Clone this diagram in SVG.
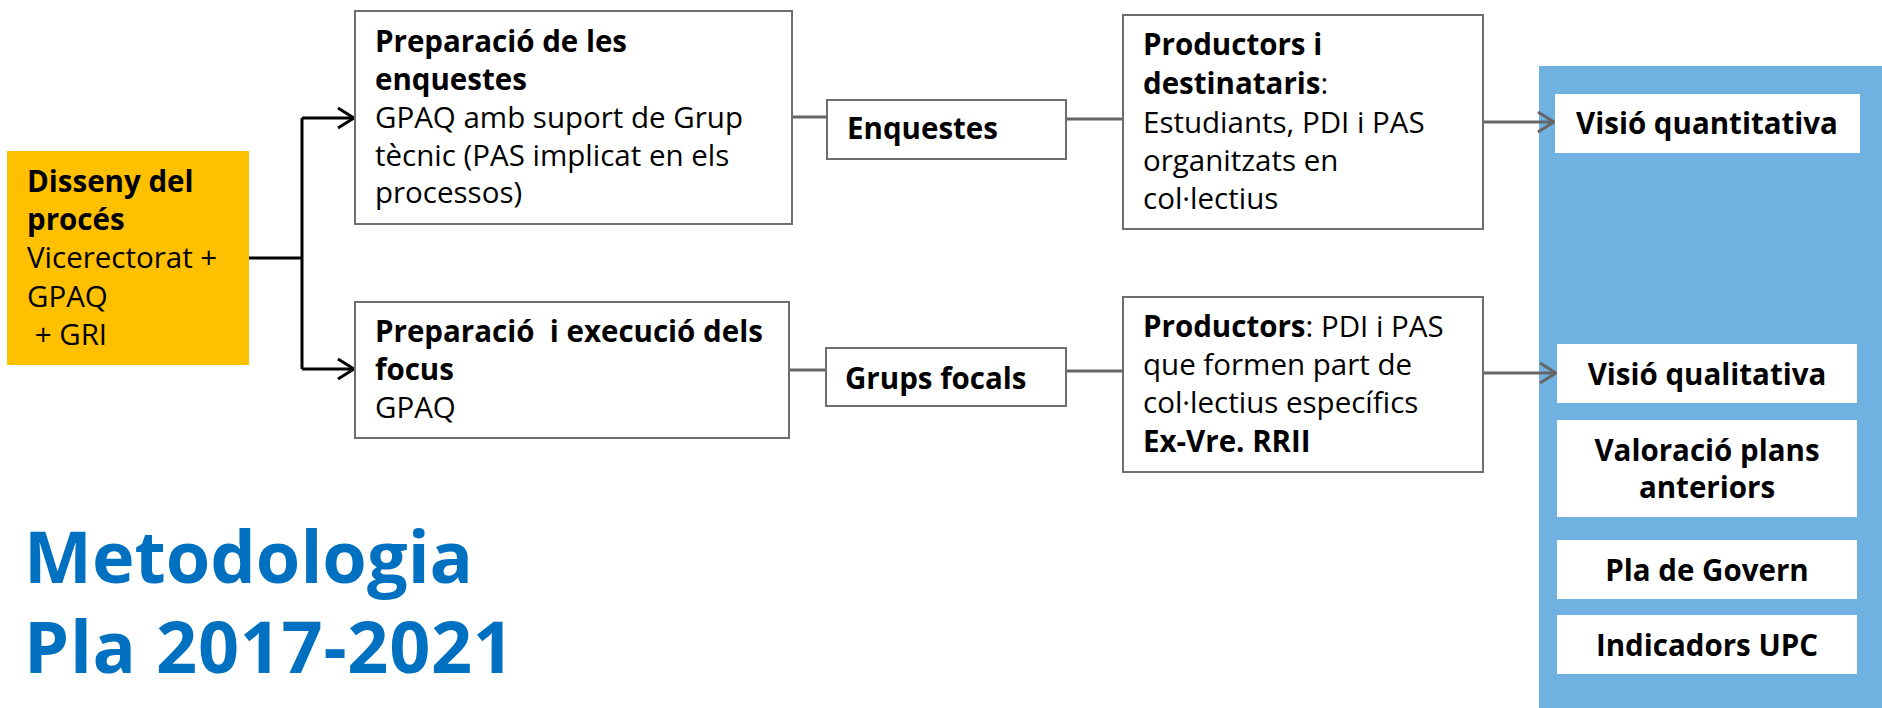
<svg xmlns="http://www.w3.org/2000/svg" width="1882" height="708" viewBox="0 0 1882 708">
<defs>
<style>
.t{font-family:"Open Sans","Noto Sans","DejaVu Sans",sans-serif;font-size:29.5px;fill:#000}
.b{font-weight:bold}
.box{fill:#fff;stroke:#6e6e6e;stroke-width:2}
.wb{fill:#fff}
.c{fill:none;stroke:#000;stroke-width:3}
.g{fill:none;stroke:#666;stroke-width:3}
.title{font-family:"Open Sans","Noto Sans",sans-serif;font-weight:bold;font-size:72px;fill:#0070C0}
.ctr{text-anchor:middle}
</style>
<marker id="ab" markerWidth="20" markerHeight="24" refX="18" refY="12" orient="auto" markerUnits="userSpaceOnUse">
<path d="M2,2 L18,12 L2,22" fill="none" stroke="#000" stroke-width="3"/>
</marker>
<marker id="ag" markerWidth="20" markerHeight="24" refX="18" refY="12" orient="auto" markerUnits="userSpaceOnUse">
<path d="M2,2 L18,12 L2,22" fill="none" stroke="#666" stroke-width="3"/>
</marker>
</defs>
<rect x="0" y="0" width="1882" height="708" fill="#fff"/>
<rect id="panel" x="1539" y="66" width="343" height="642" fill="#6FB1E0"/>

<g id="connectors">
<path class="c" d="M249,258 H302"/>
<path class="c" d="M302,118 V369"/>
<path class="c" d="M302,118 H354" marker-end="url(#ab)"/>
<path class="c" d="M302,369 H354" marker-end="url(#ab)"/>
<path class="g" d="M792,117 H827"/>
<path class="g" d="M1066,119 H1123"/>
<path class="g" d="M1483,122 H1554" marker-end="url(#ag)"/>
<path class="g" d="M789,370 H826"/>
<path class="g" d="M1066,371 H1123"/>
<path class="g" d="M1483,373 H1556" marker-end="url(#ag)"/>
</g>

<g id="disseny">
<rect x="7" y="151" width="242" height="214" fill="#FFC000"/>
<text class="t b" x="27" y="192">Disseny del</text>
<text class="t b" x="27" y="230">procés</text>
<text class="t" x="27" y="268" xml:space="preserve">Vicerectorat +</text>
<text class="t" x="27" y="307">GPAQ</text>
<text class="t" x="27" y="345" xml:space="preserve"> + GRI</text>
</g>

<g id="prep-enquestes">
<rect class="box" x="355" y="11" width="437" height="213"/>
<text class="t b" x="375" y="52">Preparació de les</text>
<text class="t b" x="375" y="90">enquestes</text>
<text class="t" x="375" y="128">GPAQ amb suport de Grup</text>
<text class="t" x="375" y="166">tècnic (PAS implicat en els</text>
<text class="t" x="375" y="203">processos)</text>
</g>

<g id="enquestes">
<rect class="box" x="827" y="100" width="239" height="59"/>
<text class="t b" x="847" y="139">Enquestes</text>
</g>

<g id="productors-destinataris">
<rect class="box" x="1123" y="15" width="360" height="214"/>
<text class="t b" x="1143" y="55">Productors i</text>
<text class="t" x="1143" y="94"><tspan class="b">destinataris</tspan>:</text>
<text class="t" x="1143" y="133">Estudiants, PDI i PAS</text>
<text class="t" x="1143" y="171">organitzats en</text>
<text class="t" x="1143" y="209">col·lectius</text>
</g>

<g id="prep-focus">
<rect class="box" x="355" y="302" width="434" height="136"/>
<text class="t b" x="375" y="342" xml:space="preserve">Preparació  i execució dels</text>
<text class="t b" x="375" y="380">focus</text>
<text class="t" x="375" y="418">GPAQ</text>
</g>

<g id="grups-focals">
<rect class="box" x="826" y="348" width="240" height="58"/>
<text class="t b" x="845" y="389">Grups focals</text>
</g>

<g id="productors">
<rect class="box" x="1123" y="297" width="360" height="175"/>
<text class="t" x="1143" y="337"><tspan class="b">Productors</tspan>: PDI i PAS</text>
<text class="t" x="1143" y="375">que formen part de</text>
<text class="t" x="1143" y="413">col·lectius específics</text>
<text class="t b" x="1143" y="452">Ex-Vre. RRII</text>
</g>

<g id="visio-quantitativa">
<rect class="wb" x="1555" y="94" width="305" height="59"/>
<text class="t b ctr" x="1707" y="134">Visió quantitativa</text>
</g>
<g id="visio-qualitativa">
<rect class="wb" x="1557" y="344" width="300" height="59"/>
<text class="t b ctr" x="1707" y="385">Visió qualitativa</text>
</g>
<g id="valoracio">
<rect class="wb" x="1557" y="420" width="300" height="97"/>
<text class="t b ctr" x="1707" y="461">Valoració plans</text>
<text class="t b ctr" x="1707" y="498">anteriors</text>
</g>
<g id="pla-govern">
<rect class="wb" x="1557" y="540" width="300" height="59"/>
<text class="t b ctr" x="1707" y="581">Pla de Govern</text>
</g>
<g id="indicadors">
<rect class="wb" x="1557" y="615" width="300" height="59"/>
<text class="t b ctr" x="1707" y="656">Indicadors UPC</text>
</g>

<g id="titol">
<text class="title" x="24" y="583">Metodologia</text>
<text class="title" x="24" y="673" textLength="490" lengthAdjust="spacing">Pla 2017-2021</text>
</g>
</svg>
